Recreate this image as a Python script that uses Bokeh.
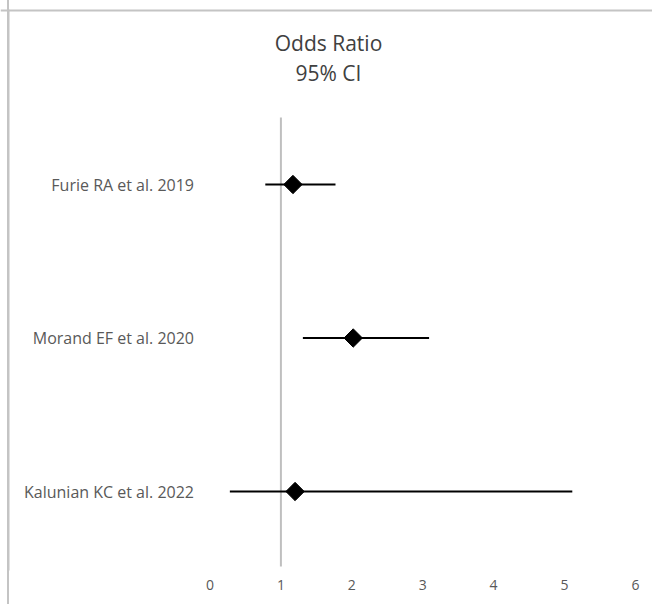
from bokeh.plotting import figure
from bokeh.models import Range1d, FixedTicker, Span, ColumnDataSource, BoxAnnotation
from bokeh.core.properties import value
from bokeh.embed import file_html
from bokeh.resources import INLINE
import math

# ---- data ----
studies = ["Furie RA et al. 2019", "Morand EF et al. 2020", "Kalunian KC et al. 2022"]
odds_ratio = [1.17, 2.02, 1.20]
ci_low = [0.78, 1.31, 0.28]
ci_high = [1.77, 3.09, 5.11]
x_ticks = [0, 1, 2, 3, 4, 5, 6]
title_lines = ["Odds Ratio", "95% CI"]
ref_value = 1

# ---- layout ----
W, H = 652, 604
OFF = 0
BOTTOM = 34
FONT = "Open Sans"
BORDER = "#c4c4c4"
px_x = 70.9
X0 = -(209.5 - OFF) / px_x
X1 = X0 + W / px_x
frame_h = H - BOTTOM
px_y = 153.5
Y1 = 3 + (184 - OFF) / px_y
Y0 = Y1 - frame_h / px_y

def dx(page_x):
    return X0 + (page_x - OFF) / px_x

def dy(page_y):
    return Y1 - (page_y - OFF) / px_y

rows = list(range(len(studies), 0, -1))

p = figure(width=W, height=H, output_backend="svg", toolbar_location=None,
           x_range=Range1d(X0, X1), y_range=Range1d(Y0, Y1),
           y_axis_location=None, min_border_left=0, min_border_right=0,
           min_border_top=0, min_border_bottom=BOTTOM)
p.outline_line_color = None
p.grid.visible = False
p.background_fill_color = None
p.border_fill_color = None
# left chart border running the full height (shows through the transparent canvas)
p.styles = {"background": f"linear-gradient(to right, #ffffff 0px, #ffffff 7px, {BORDER} 7px, "
                          f"{BORDER} 9px, #ffffff 9px, #ffffff 100%)"}

ax = p.xaxis[0]
ax.ticker = FixedTicker(ticks=x_ticks)
ax.axis_line_color = None
ax.major_tick_line_color = None
ax.minor_tick_line_color = None
ax.major_tick_out = 0
ax.major_label_standoff = 9
ax.major_label_text_font = FONT
ax.major_label_text_font_size = "14px"
ax.major_label_text_color = "#595959"

# chart border (left, inside frame, and top)
p.add_layout(BoxAnnotation(left=7, right=9, top=9, bottom=H,
                           left_units="canvas", right_units="canvas",
                           top_units="canvas", bottom_units="canvas",
                           fill_color=BORDER, fill_alpha=1.0, line_color=None))
p.add_layout(Span(location=dy(10), dimension="width", line_color=BORDER, line_width=2))

# reference (vertical axis) line at OR = 1
p.segment(x0=[ref_value], y0=[dy(117)], x1=[ref_value], y1=[dy(566)],
          line_color="#bfbfbf", line_width=2)

src = ColumnDataSource(dict(study=studies, y=rows, orv=odds_ratio, lo=ci_low, hi=ci_high,
                            lx=[0] * len(studies)))
p.segment(x0="lo", y0="y", x1="hi", y1="y", source=src, line_color="black", line_width=2)
p.scatter(x="orv", y="y", source=src, marker="square", angle=math.pi / 4,
          size=13, fill_color="black", line_color="black")

p.text(x="lx", y="y", text="study", source=src, x_offset=-16,
       text_align="right", text_baseline="middle",
       text_font=value(FONT), text_font_size="16px", text_color="#595959")

# title
p.text(x=[dx(328), dx(328)], y=[dy(42), dy(72)], text=title_lines,
       text_align="center", text_baseline="middle",
       text_font=value(FONT), text_font_size="21px", text_color="#404040")

open("out.html", "w").write(file_html(p, INLINE))
